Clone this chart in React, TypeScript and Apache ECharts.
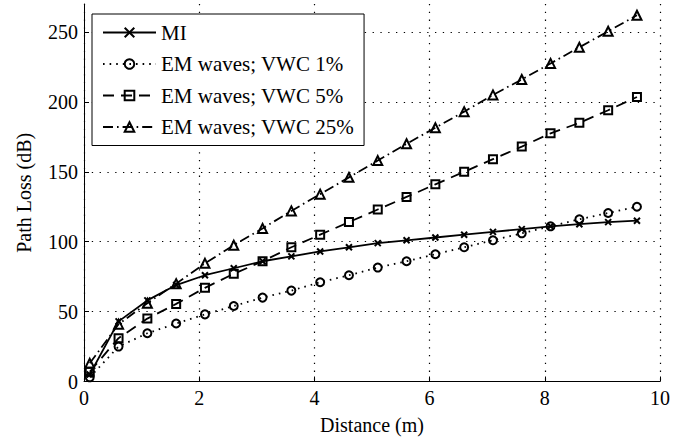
import React, { useEffect, useRef } from "react";
import * as echarts from "echarts";

const distances = [0.1, 0.6, 1.1, 1.6, 2.1, 2.6, 3.1, 3.6, 4.1, 4.6, 5.1, 5.6, 6.1, 6.6, 7.1, 7.6, 8.1, 8.6, 9.1, 9.6];
const miLoss = [5, 43, 58, 69, 76, 81, 86, 89.5, 93, 96, 99, 101, 103, 105, 107, 109, 111, 112.5, 114, 115];
const vwc1Loss = [3, 25, 34.5, 41.5, 48, 54, 60, 65, 71, 76, 81.5, 86, 91, 96, 101, 106, 111, 116, 120.5, 125];
const vwc5Loss = [7, 31, 45, 55.5, 67, 77, 86, 96, 105, 114, 123, 132, 141, 150, 159, 168, 177.5, 185, 194, 203.5];
const vwc25Loss = [13, 41, 56, 70, 84.5, 97.5, 109.5, 122, 134, 146, 158, 170, 181.5, 193, 205, 216, 227.5, 239, 250.5, 262];
const yTicks = [0, 50, 100, 150, 200, 250];
const seriesNames = ["MI", "EM waves; VWC 1%", "EM waves; VWC 5%", "EM waves; VWC 25%"];

const FONT = "Liberation Serif";

function pairs(ys: number[]) {
  return distances.map((x, i) => [x, ys[i]]);
}

export default function App() {
  const ref = useRef<HTMLDivElement>(null);
  useEffect(() => {
    if (!ref.current) return;
    const chart = echarts.init(ref.current, null, { renderer: "svg" });
    const common = {
      type: "line",
      showAllSymbol: true,
      emphasis: { disabled: true },
    };
    const open = { color: "rgba(255,255,255,0)", borderColor: "#000", borderWidth: 2 };
    chart.setOption({
      animation: false,
      backgroundColor: "#fff",
      textStyle: { fontFamily: FONT, color: "#000" },
      grid: { left: 84, right: 27, top: 4, bottom: 59.5, containLabel: false },
      legend: {
        show: true,
        orient: "vertical",
        left: 92,
        top: 14,
        width: 276,
        padding: [8, 10, 8, 10],
        itemGap: 10.5,
        itemWidth: 53,
        itemHeight: 12,
        borderColor: "#000",
        borderWidth: 1,
        backgroundColor: "#fff",
        textStyle: { fontFamily: FONT, fontSize: 21, color: "#000", lineHeight: 21 },
        data: seriesNames,
      },
      xAxis: {
        type: "value",
        min: 0,
        max: 10,
        interval: 2,
        name: "Distance (m)",
        nameLocation: "middle",
        nameGap: 33,
        nameTextStyle: { fontFamily: FONT, fontSize: 20, color: "#000" },
        axisLine: { show: true, onZero: false, lineStyle: { color: "#000", width: 1 } },
        axisTick: { show: true, inside: true, length: 5, lineStyle: { color: "#000" } },
        axisLabel: { fontFamily: FONT, fontSize: 20, color: "#000", margin: 6 },
        splitLine: { show: true, lineStyle: { color: "#000", type: [1.3, 6.5], width: 1.2 } },
      },
      yAxis: {
        type: "value",
        min: 0,
        max: 270,
        interval: 50,
        name: "Path Loss (dB)",
        nameLocation: "middle",
        nameGap: 50,
        nameTextStyle: { fontFamily: FONT, fontSize: 20, color: "#000" },
        axisLine: { show: true, onZero: false, lineStyle: { color: "#000", width: 1 } },
        axisTick: { show: true, inside: true, length: 5, customValues: yTicks, lineStyle: { color: "#000" } },
        axisLabel: { fontFamily: FONT, fontSize: 20, color: "#000", margin: 6, customValues: yTicks },
        splitLine: { show: true, lineStyle: { color: "#000", type: [1.3, 6.5], width: 1.2 } },
      },
      series: [
        {
          ...common,
          name: seriesNames[0],
          data: pairs(miLoss),
          symbol: "path://M0,0L10,10M10,0L0,10",
          symbolSize: 6,
          itemStyle: { color: "#000", borderColor: "#000", borderWidth: 2 },
          lineStyle: { color: "#000", width: 1.8, type: "solid" },
          z: 5,
        },
        {
          ...common,
          name: seriesNames[1],
          data: pairs(vwc1Loss),
          symbol: "circle",
          symbolSize: 8,
          itemStyle: open,
          lineStyle: { color: "#000", width: 1.8, type: [1.6, 5] },
        },
        {
          ...common,
          name: seriesNames[2],
          data: pairs(vwc5Loss),
          symbol: "rect",
          symbolSize: 8,
          itemStyle: open,
          lineStyle: { color: "#000", width: 1.8, type: [11, 7] },
        },
        {
          ...common,
          name: seriesNames[3],
          data: pairs(vwc25Loss),
          symbol: "triangle",
          symbolSize: 9,
          itemStyle: open,
          lineStyle: { color: "#000", width: 1.8, type: [10, 4, 1.6, 4] },
        },
      ],
    });
    return () => chart.dispose();
  }, []);
  return <div ref={ref} style={{ position: "fixed", left: 0, top: 0, width: 687, height: 441 }} />;
}
